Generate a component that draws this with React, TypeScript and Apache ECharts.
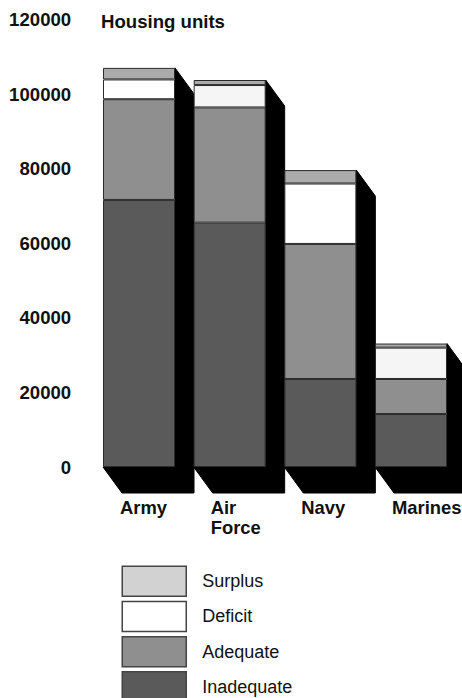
import React, { useEffect, useRef } from "react";
import * as echarts from "echarts";

const categories = ["Army", "Air\nForce", "Navy", "Marines"];
const inadequate = [71600, 65500, 23600, 14200];
const adequate = [27000, 30900, 36200, 9400];
const deficit = [5300, 6000, 16200, 8400];
const surplus = [3100, 1350, 3600, 1100];
const legendOrder = ["Surplus", "Deficit", "Adequate", "Inadequate"];

const BAR_WIDTH = 72;
const DEPTH_X = 19;
const DEPTH_Y = 26;
const FONT = '"Liberation Sans", Arial, sans-serif';
const EDGE = "#2a2a2a";

export default function App() {
  const ref = useRef<HTMLDivElement>(null);
  useEffect(() => {
    const chart = echarts.init(ref.current!, undefined, { renderer: "svg" });
    const totals = categories.map((_, i) => inadequate[i] + adequate[i] + deficit[i] + surplus[i]);
    const bar = (name: string, data: any[], color: string) => ({
      name,
      type: "bar",
      stack: "units",
      barWidth: BAR_WIDTH,
      z: 3,
      data,
      itemStyle: { color, borderColor: EDGE, borderWidth: 1 },
    });
    chart.setOption({
      animation: false,
      backgroundColor: "#fff",
      title: {
        text: "Housing units",
        left: 101,
        top: 12,
        padding: 0,
        textStyle: { fontFamily: FONT, fontSize: 18.6, fontWeight: "bold", color: "#111" },
      },
      legend: {
        data: legendOrder.map((name, i) => ({
          name,
          icon: "rect",
          itemStyle: {
            color: ["#d2d2d2", "#ffffff", "#8f8f8f", "#5a5a5a"][i],
            borderColor: "#444",
            borderWidth: 1.5,
          },
        })),
        orient: "vertical",
        left: 121.5,
        top: 565.5,
        height: 200,
        padding: 0,
        itemWidth: 64,
        itemHeight: 30,
        itemGap: 3.7,
        selectedMode: false,
        textStyle: { fontFamily: FONT, fontSize: 18, color: "#111", padding: [0, 0, 0, 11] },
      },
      grid: { left: 93.67, width: 362.67, top: 19.4, height: 447.6, outerBoundsMode: "none" },
      xAxis: {
        type: "category",
        data: categories,
        axisLine: { show: false },
        axisTick: { show: false },
        axisLabel: {
          interval: 0,
          margin: 30,
          align: "left",
          verticalAlign: "top",
          padding: [0, 0, 0, -19],
          lineHeight: 20.5,
          fontFamily: FONT,
          fontSize: 18.4,
          fontWeight: "bold",
          color: "#111",
          hideOverlap: false,
        },
      },
      yAxis: {
        type: "value",
        min: 0,
        max: 120000,
        interval: 20000,
        axisLine: { show: false },
        axisTick: { show: false },
        splitLine: { show: false },
        axisLabel: {
          margin: 22.5,
          formatter: (v: number) => String(v),
          fontFamily: FONT,
          fontSize: 18.6,
          fontWeight: "bold",
          color: "#111",
        },
      },
      series: [
        {
          name: "depth",
          type: "custom",
          z: 1,
          silent: true,
          encode: { x: 0, y: 1 },
          data: totals.map((t, i) => [i, t]),
          renderItem: (_: any, api: any) => {
            const top = api.coord([api.value(0), api.value(1)]);
            const base = api.coord([api.value(0), 0]);
            const l = top[0] - BAR_WIDTH / 2;
            const r = top[0] + BAR_WIDTH / 2;
            return {
              type: "polygon",
              shape: {
                points: [
                  [r, top[1]],
                  [r + DEPTH_X, top[1] + DEPTH_Y],
                  [r + DEPTH_X, base[1] + DEPTH_Y],
                  [l + DEPTH_X, base[1] + DEPTH_Y],
                  [l, base[1]],
                  [r, base[1]],
                ],
              },
              style: { fill: "#000", stroke: "#000" },
            };
          },
        },
        bar("Inadequate", inadequate, "#5a5a5a"),
        bar("Adequate", adequate, "#8f8f8f"),
        bar(
          "Deficit",
          deficit.map((value, i) => ({
            value,
            itemStyle: { color: i % 2 === 1 ? "#f5f5f5" : "#ffffff" },
          })),
          "#ffffff"
        ),
        bar("Surplus", surplus, "#ababab"),
      ],
    });
    return () => chart.dispose();
  }, []);
  return (
    <div style={{ position: "fixed", left: 0, top: 0, width: 462, height: 698, overflow: "hidden" }}>
      <div ref={ref} style={{ width: 462, height: 698 }} />
    </div>
  );
}
